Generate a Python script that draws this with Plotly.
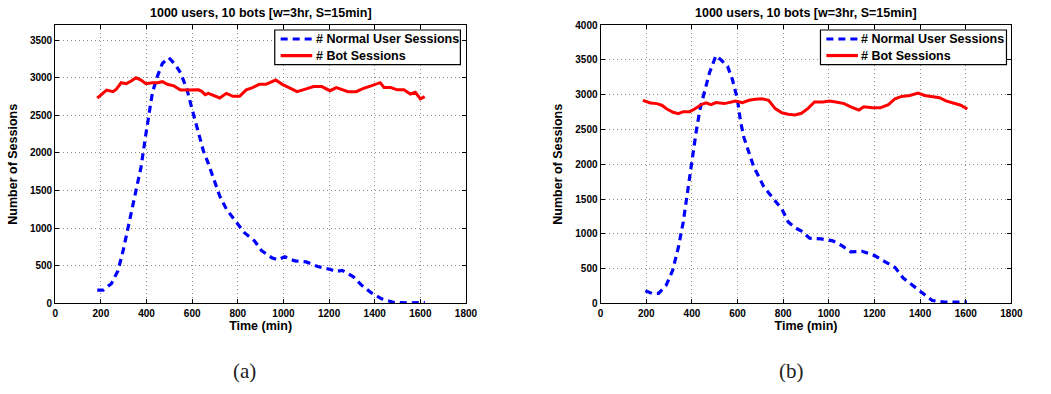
import plotly.graph_objects as go

# ---- panel (a) ----
a_user_t = [184, 210, 246, 275, 297, 318, 333, 354, 376, 397, 412, 426, 448, 470, 498,
            527, 549, 577, 599, 621, 649, 671, 700, 721, 750, 770, 800, 829, 873, 904,
            949, 975, 1006, 1050, 1100, 1150, 1204, 1230, 1257, 1305, 1340, 1384, 1430,
            1485, 1542, 1597, 1620]
a_user_n = [177, 177, 263, 436, 694, 996, 1211, 1513, 1814, 2246, 2547, 2806, 3022, 3194, 3267,
            3172, 3065, 2849, 2590, 2331, 2030, 1858, 1599, 1426, 1254, 1170, 1060, 940, 832, 702,
            608, 580, 620, 565, 552, 491, 453, 425, 440, 358, 250, 142, 61,
            13, 9, 9, 10]

a_bot_t = [184, 203, 225, 253, 268, 289, 311, 333, 354, 376, 397, 426, 448, 470, 491, 520,
           549, 577, 606, 628, 642, 657, 671, 692, 721, 750, 779, 808, 837, 865, 894, 923,
           966, 995, 1024, 1060, 1096, 1132, 1168, 1204, 1232, 1254, 1283, 1319, 1348, 1384,
           1424, 1441, 1470, 1499, 1528, 1556, 1578, 1600, 1619]
a_bot_n = [2728, 2784, 2836, 2815, 2849, 2935, 2922, 2957, 3000, 2970, 2922, 2935, 2935, 2948, 2913, 2892,
           2836, 2836, 2836, 2840, 2820, 2776, 2793, 2771, 2732, 2793, 2754, 2754, 2840, 2870, 2913, 2913,
           2970, 2913, 2870, 2815, 2849, 2883, 2883, 2828, 2870, 2849, 2815, 2815, 2857, 2892,
           2935, 2870, 2870, 2840, 2840, 2784, 2806, 2719, 2750]

# ---- panel (b) ----
b_user_t = [196, 225, 254, 287, 315, 340, 362, 376, 390, 405, 419, 436, 455, 477, 505,
            527, 556, 577, 599, 613, 628, 650, 671, 693, 714, 736, 765, 794, 822, 851,
            880, 916, 966, 1017, 1057, 1096, 1146, 1204, 1247, 1290, 1326, 1367, 1410,
            1453, 1506, 1564, 1605]
b_user_n = [182, 144, 144, 261, 471, 797, 1171, 1497, 1823, 2150, 2476, 2802, 3059, 3316, 3560,
            3502, 3409, 3222, 2942, 2616, 2382, 2150, 1963, 1823, 1683, 1590, 1473, 1357, 1171, 1090,
            1040, 937, 928, 900, 830, 741, 750, 681, 597, 518, 364, 261, 144,
            42, 19, 14, 20]

b_bot_t = [185, 218, 246, 268, 290, 318, 340, 362, 390, 412, 441, 462, 484, 505, 542, 570,
           592, 621, 650, 678, 707, 736, 765, 794, 822, 851, 880, 909, 937, 974, 1002, 1031,
           1067, 1096, 1132, 1153, 1190, 1225, 1261, 1290, 1319, 1355, 1391, 1420, 1456, 1485,
           1513, 1549, 1578, 1607]
b_bot_n = [2919, 2882, 2872, 2849, 2794, 2747, 2728, 2756, 2756, 2794, 2858, 2882, 2858, 2886, 2872, 2896,
           2910, 2886, 2919, 2933, 2942, 2919, 2800, 2740, 2718, 2710, 2733, 2803, 2896, 2896, 2910, 2896,
           2872, 2826, 2779, 2826, 2812, 2812, 2858, 2942, 2975, 2989, 3022, 2989, 2975, 2956,
           2910, 2882, 2849, 2794]

x_ticks = list(range(0, 2000, 200))
a_y_ticks = list(range(0, 4000, 500))
b_y_ticks = list(range(0, 4500, 500))
user_name = "# Normal User Sessions"
bot_name = "# Bot Sessions"
title_text = "1000 users, 10 bots [w=3hr, S=15min]"
captions = ["(a)", "(b)"]

W, H = 1051, 394
FONT = "Liberation Sans"

USER_COLOR, BOT_COLOR = "#0000ff", "#ff0000"
USER_DASH = "7px,5px"

def px(x):
    return x / W

def py(y):
    return (H - y) / H

fig = go.Figure()

user_line = dict(color=USER_COLOR, width=3.2, dash=USER_DASH)
bot_line = dict(color=BOT_COLOR, width=3)

fig.add_trace(go.Scatter(x=a_user_t, y=a_user_n, mode="lines", name=user_name,
                         line=user_line, xaxis="x", yaxis="y"))
fig.add_trace(go.Scatter(x=a_bot_t, y=a_bot_n, mode="lines", name=bot_name,
                         line=bot_line, xaxis="x", yaxis="y"))
fig.add_trace(go.Scatter(x=b_user_t, y=b_user_n, mode="lines", name=user_name,
                         line=user_line, xaxis="x2", yaxis="y2"))
fig.add_trace(go.Scatter(x=b_bot_t, y=b_bot_n, mode="lines", name=bot_name,
                         line=bot_line, xaxis="x2", yaxis="y2"))

tick_font = dict(family=FONT, size=10, color="black", weight="bold")
label_font = dict(family=FONT, size=12.5, color="black", weight="bold")
GRID = dict(showgrid=True, gridcolor="#8a8a8a", griddash="1px,3px", gridwidth=1)

def xaxis(domain, anchor):
    return dict(domain=domain, anchor=anchor, range=[0, 1800],
                tickvals=x_ticks, ticktext=[f"<b>{v}</b>" for v in x_ticks],
                ticks="inside", ticklen=4, tickcolor="black", mirror="ticks",
                showline=True, linecolor="black", linewidth=1.2,
                zeroline=False, tickfont=tick_font, **GRID,
                title=dict(text="<b>Time (min)</b>", font=label_font, standoff=3))

def yaxis(domain, anchor, top, ticks):
    return dict(domain=domain, anchor=anchor, range=[0, top],
                tickvals=ticks, ticktext=[f"<b>{v}</b>" for v in ticks],
                ticks="inside", ticklen=4, tickcolor="black", mirror="ticks",
                showline=True, linecolor="black", linewidth=1.2,
                zeroline=False, tickfont=tick_font, **GRID,
                title=dict(text="<b>Number of Sessions</b>", font=label_font, standoff=9))

ydom = [py(307), py(20.7)]

fig.update_layout(
    width=W, height=H,
    margin=dict(l=0, r=0, t=0, b=0),
    paper_bgcolor="white", plot_bgcolor="white",
    xaxis=xaxis([px(53), px(469.7)], "y"),
    yaxis=yaxis(ydom, "x", 3700, a_y_ticks),
    xaxis2=xaxis([px(606.3), px(1023)], "y2"),
    yaxis2=yaxis(ydom, "x2", 4000, b_y_ticks),
    showlegend=False,
)

# legend boxes drawn in the upper-right corner of each panel
for left, right in [(275.7, 464), (829.3, 1018)]:
    fig.add_shape(type="rect", xref="paper", yref="paper",
                  x0=px(left), x1=px(right), y0=py(61.3), y1=py(25.7),
                  line=dict(color="black", width=1.2), fillcolor="white", layer="above")
    for row_y, name, color, dash in [(35, user_name, USER_COLOR, USER_DASH),
                                     (52, bot_name, BOT_COLOR, "solid")]:
        fig.add_shape(type="line", xref="paper", yref="paper",
                      x0=px(left + 6), x1=px(left + 38), y0=py(row_y), y1=py(row_y),
                      line=dict(color=color, width=3.2, dash=dash), layer="above")
        fig.add_annotation(x=px(left + 39.5), y=py(row_y), xref="paper", yref="paper",
                           text=f"<b>{name}</b>", showarrow=False,
                           xanchor="left", yanchor="middle",
                           font=dict(family=FONT, size=12.5, color="black", weight="bold"))

for cx, cap in [((53 + 469.7) / 2, captions[0]), ((606.3 + 1023) / 2, captions[1])]:
    fig.add_annotation(x=px(cx), y=py(8), xref="paper", yref="paper",
                       text=f"<b>{title_text}</b>", showarrow=False,
                       xanchor="center", yanchor="middle",
                       font=dict(family=FONT, size=12.5, color="black", weight="bold"))

for cx, cap in [(245, captions[0]), (800, captions[1])]:
    fig.add_annotation(x=px(cx), y=py(377), xref="paper", yref="paper", text=cap,
                       showarrow=False, xanchor="center", yanchor="middle",
                       font=dict(family="Liberation Serif", size=21, color="#222222"))

fig.write_html("out.html")
